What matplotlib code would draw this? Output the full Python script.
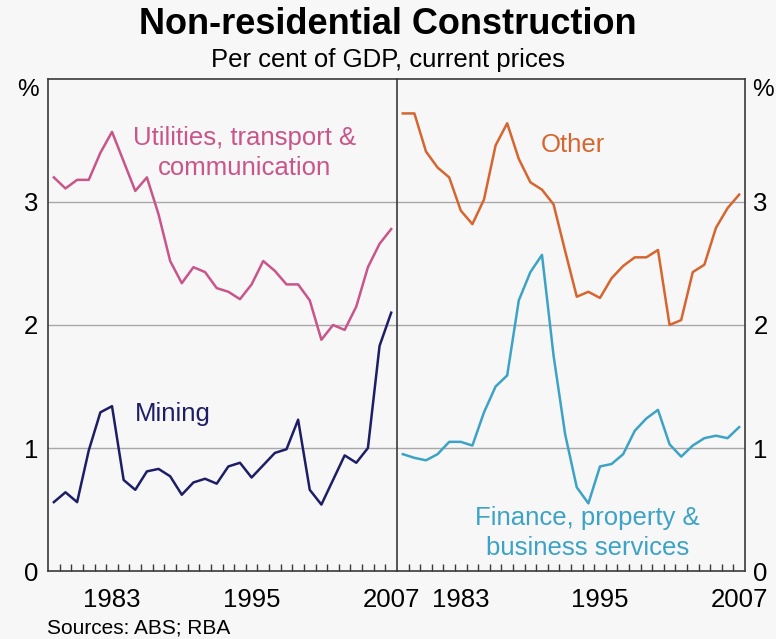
import matplotlib
matplotlib.use("Agg")
import matplotlib.pyplot as plt
import numpy as np

plt.rcParams['font.family'] = ['Liberation Sans', 'DejaVu Sans']

years = list(range(1978, 2008))

utilities = [3.20, 3.11, 3.18, 3.18, 3.40, 3.57, 3.33, 3.09, 3.20, 2.90,
             2.52, 2.34, 2.47, 2.43, 2.30, 2.27, 2.21, 2.33, 2.52, 2.44,
             2.33, 2.33, 2.20, 1.88, 2.00, 1.96, 2.15, 2.47, 2.66, 2.78]
mining = [0.56, 0.64, 0.56, 0.98, 1.29, 1.34, 0.74, 0.66, 0.81, 0.83,
          0.77, 0.62, 0.72, 0.75, 0.71, 0.85, 0.88, 0.76, 0.86, 0.96,
          0.99, 1.23, 0.66, 0.54, 0.74, 0.94, 0.88, 1.00, 1.83, 2.10]
other = [3.72, 3.72, 3.41, 3.28, 3.20, 2.93, 2.82, 3.02, 3.46, 3.64,
         3.35, 3.16, 3.10, 2.98, 2.60, 2.23, 2.27, 2.22, 2.38, 2.48,
         2.55, 2.55, 2.61, 2.00, 2.04, 2.43, 2.49, 2.79, 2.95, 3.06]
finance = [0.95, 0.92, 0.90, 0.95, 1.05, 1.05, 1.02, 1.29, 1.50, 1.59,
           2.20, 2.43, 2.57, 1.75, 1.11, 0.68, 0.55, 0.85, 0.87, 0.95,
           1.14, 1.24, 1.31, 1.03, 0.93, 1.02, 1.08, 1.10, 1.08, 1.17]

year_labels = [1983, 1995, 2007]
y_ticks = [0, 1, 2, 3]

bg = '#f7f7f7'
frame = '#3a3a3a'
grid = '#a8a8a8'
c_util = '#c9558a'
c_mining = '#1e1e66'
c_other = '#d6652f'
c_fin = '#3da3c6'
fs = 18.5

fig = plt.figure(figsize=(7.76, 6.39), dpi=100, facecolor=bg)
ax1 = fig.add_axes([0.0619, 0.1064, 0.4497, 0.770])
ax2 = fig.add_axes([0.5116, 0.1064, 0.4484, 0.770])

for ax in (ax1, ax2):
    ax.set_facecolor(bg)
    ax.set_xlim(1977.5, 2007.5)
    ax.set_ylim(0, 4)
    for y in [1, 2, 3]:
        ax.axhline(y, color=grid, lw=1.0, zorder=1)
    for s in ax.spines.values():
        s.set_color(frame)
        s.set_linewidth(1.2)
    ax.set_xticks(year_labels)
    ax.set_xticklabels([str(y) for y in year_labels])
    ax.set_xticks(np.arange(1978.5, 2007, 1), minor=True)
    ax.tick_params(axis='x', which='major', length=0, pad=12, labelsize=fs)
    ax.tick_params(axis='x', which='minor', direction='in', length=5,
                   width=1.0, color=frame)
    ax.set_yticks(y_ticks)
    ax.tick_params(axis='y', length=0, labelsize=fs, pad=7)

ax1.plot(years, utilities, color=c_util, lw=1.8, zorder=3)
ax1.plot(years, mining, color=c_mining, lw=1.8, zorder=3)
ax2.plot(years, other, color=c_other, lw=1.8, zorder=3)
ax2.plot(years, finance, color=c_fin, lw=1.8, zorder=3)

ax2.yaxis.tick_right()
ax2.tick_params(axis='y', pad=6)
ax1.spines['right'].set_visible(False)

ax1.text(-0.026, 1.0, '%', transform=ax1.transAxes, ha='right', va='top', fontsize=17.5)
ax2.text(1.022, 1.0, '%', transform=ax2.transAxes, ha='left', va='top', fontsize=17.5)

ax1.text(1994.4, 3.40, 'Utilities, transport &\ncommunication', color=c_util,
         fontsize=fs, ha='center', va='center', linespacing=1.3)
ax1.text(1988.2, 1.28, 'Mining', color=c_mining, fontsize=fs, ha='center', va='center')
ax2.text(1992.7, 3.46, 'Other', color=c_other, fontsize=fs, ha='center', va='center')
ax2.text(1993.9, 0.31, 'Finance, property &\nbusiness services', color=c_fin,
         fontsize=fs, ha='center', va='center', linespacing=1.3)

fig.text(0.5, 0.962, 'Non-residential Construction', ha='center', va='center',
         fontsize=26, fontweight='bold')
fig.text(0.5, 0.906, 'Per cent of GDP, current prices', ha='center', va='center',
         fontsize=18.5)
fig.text(0.060, 0.017, 'Sources: ABS; RBA', ha='left', va='center', fontsize=15)

fig.savefig('out.png', dpi=100, facecolor=bg)
